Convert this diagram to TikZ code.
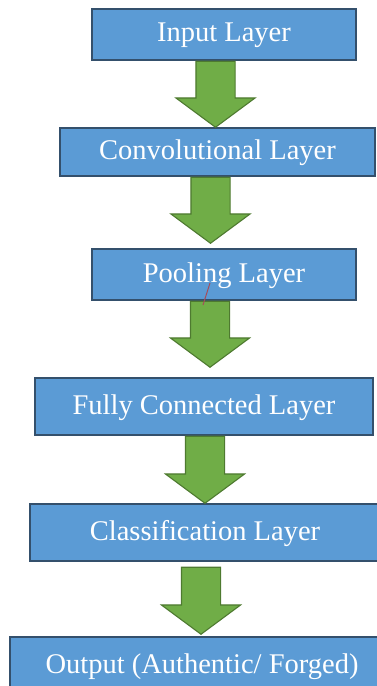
\documentclass[tikz,border=0pt]{standalone}
\usepackage{xcolor}
\usepackage{fontspec}
\setmainfont{Liberation Serif}
\usepackage{tikz}
\usetikzlibrary{shapes.arrows, positioning}

\definecolor{boxblue}{HTML}{5B9BD5}
\definecolor{boxline}{HTML}{34506C}
\definecolor{arrgreen}{HTML}{70AD47}
\definecolor{arrline}{HTML}{4E7A30}

\tikzset{
    layer/.style={draw=boxline, fill=boxblue, line width=1.4pt, text=white,
        font=\fontsize{28.5}{30}\selectfont, text depth=0.38em, inner sep=0pt},
    downarrow/.style={single arrow, draw=arrline, fill=arrgreen, line width=1.1pt,
        rotate=-90, anchor=tail, inner xsep=0pt, inner ysep=19pt,
        single arrow head extend=20pt, single arrow tip angle=107,
        minimum height=66pt}
}

\begin{document}
\begin{tikzpicture}[x=1pt, y=-1pt]
\useasboundingbox (0,0) rectangle (376,686);

% Layers
\node[layer, minimum width=264, minimum height=51] (input) at (224, 34.5) {Input Layer};
\node[layer, minimum width=315, minimum height=48] (conv) at (217.5, 152) {Convolutional Layer};
\node[layer, minimum width=264, minimum height=51] (pool) at (224, 274.5) {Pooling Layer};
\node[layer, minimum width=338, minimum height=57] (fc) at (204, 406.5) {Fully Connected Layer};
\node[layer, minimum width=350, minimum height=57] (cls) at (205, 532.5) {Classification Layer};
\node[layer, minimum width=384, minimum height=58] (out) at (202, 666) {Output (Authentic/ Forged)};

% Arrows
\node[downarrow] (a1) at ([xshift=-8.5]input.south) {};
\node[downarrow] (a2) at ([xshift=-7]conv.south) {};
\node[downarrow] (a3) at ([xshift=-14]pool.south) {};
\node[downarrow, minimum height=67pt] (a4) at ([xshift=1]fc.south) {};
\node[downarrow, minimum height=67pt] (a5) at ([xshift=-4, yshift=-5]cls.south) {};

% stray mark
\draw[draw=brown!60!violet, line width=1pt] (210,283) -- (203,305);
\end{tikzpicture}
\end{document}
